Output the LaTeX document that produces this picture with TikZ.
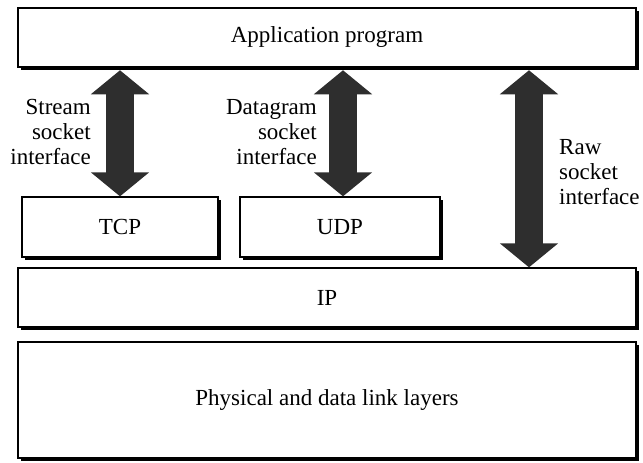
\documentclass[tikz,border=0pt]{standalone}
\usepackage{fontspec}
\setmainfont{Liberation Serif}
\usetikzlibrary{arrows.meta,shadows}
\begin{document}
\begin{tikzpicture}[x=1pt,y=-1pt,
  layer/.style={draw=black, line width=1.3pt, fill=white, inner sep=0pt,
    drop shadow={shadow xshift=2.6pt, shadow yshift=-2.6pt, fill=black, opacity=1},
    font=\fontsize{23}{25}\selectfont},
  label/.style={inner sep=0pt, font=\fontsize{23}{25}\selectfont},
  iface/.style={line width=28pt, draw=black!82,
    {Triangle[width=57pt,length=24pt]}-{Triangle[width=57pt,length=24pt]}}
]
\useasboundingbox (0,0) rectangle (643,463);

% protocol layers
\node[layer, minimum width=618pt, minimum height=59pt] (app) at (327,37.5) {Application program};
\node[layer, minimum width=196pt, minimum height=60pt] (tcp) at (120,227) {TCP};
\node[layer, minimum width=200pt, minimum height=60pt] (udp) at (340,227) {UDP};
\node[layer, minimum width=618pt, minimum height=59pt] (ip) at (327,297.5) {IP};
\node[layer, minimum width=618pt, minimum height=116pt] (phy) at (327,400) {Physical and data link layers};

% socket interfaces
\coordinate (s1) at (120,0);
\coordinate (s2) at (343,0);
\coordinate (s3) at (529,0);
\draw[iface] ([yshift=-2.6pt]app.south -| s1) -- (tcp.north -| s1);
\draw[iface] ([yshift=-2.6pt]app.south -| s2) -- (udp.north -| s2);
\draw[iface] ([yshift=-2.6pt]app.south -| s3) -- (ip.north -| s3);

\node[label, anchor=east, align=right] (lstream) at (91,132) {Stream\\socket\\interface};
\node[label, anchor=east, align=right] (ldgram) at (317,132) {Datagram\\socket\\interface};
\node[label, anchor=west, align=left] (lraw) at (559,172) {Raw\\socket\\interface};
\end{tikzpicture}
\end{document}
